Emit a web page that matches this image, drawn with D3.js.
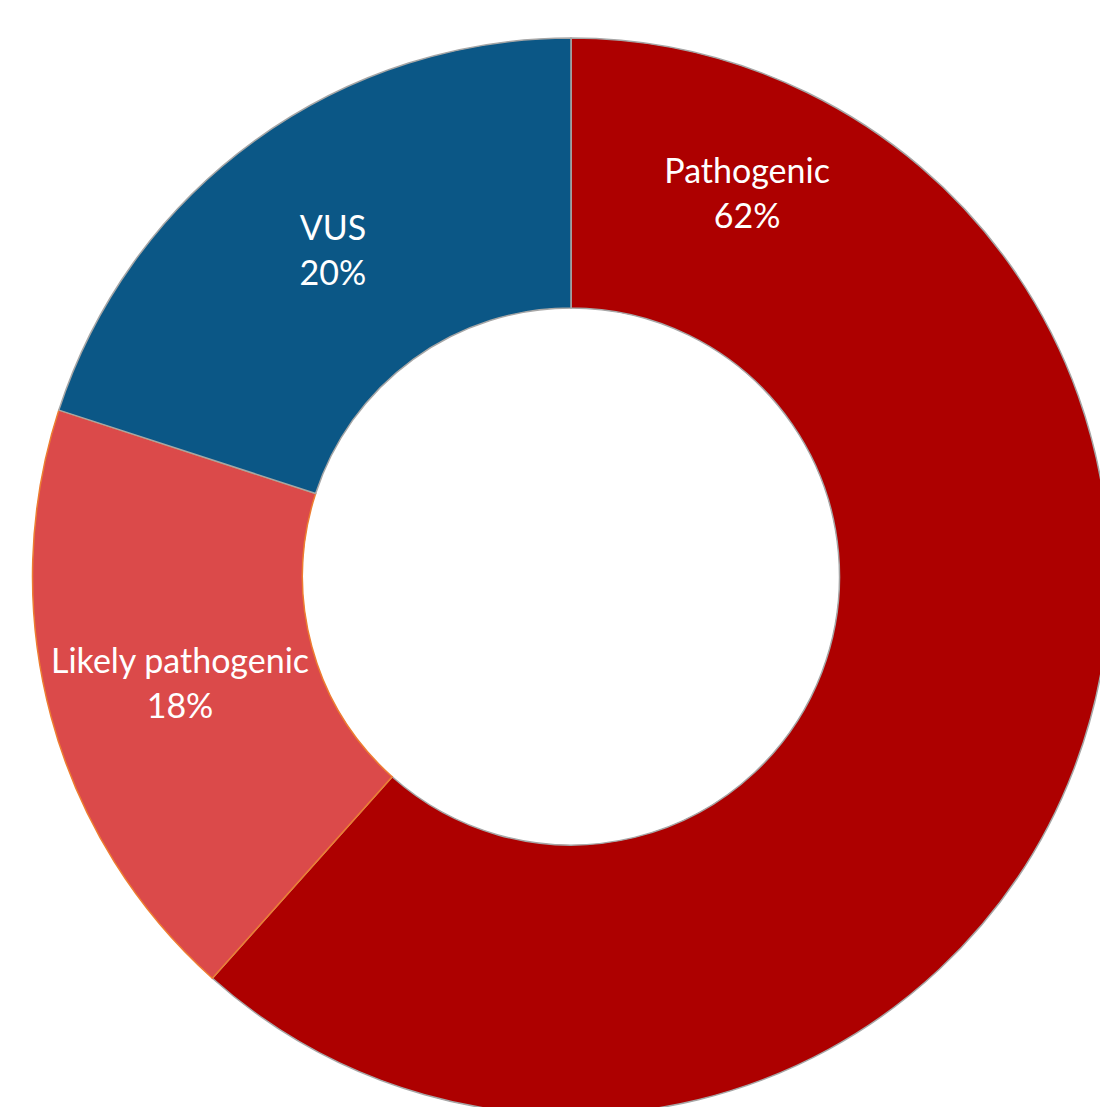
<!DOCTYPE html>
<html>
<head>
<meta charset="utf-8">
<script src="https://cdn.jsdelivr.net/npm/d3@7"></script>
<style>
  html, body { margin: 0; padding: 0; background: #ffffff; overflow: hidden; }
  svg { display: block; }
</style>
</head>
<body>
<svg id="chart" width="1100" height="1107"></svg>
<script>
const categories = ["Pathogenic", "Likely pathogenic", "VUS"];
const values = [61.6, 18.4, 20.0];
const colors = ["#ad0000", "#db4a4a", "#0b5786"];
const strokes = ["#a6a6a6", "#ed7d31", "#a6a6a6"];

const W = 1100, H = 1107;
const cx = 571, cy = 576.5;
const outerR = 538.5, innerR = 268.5;

const svg = d3.select("#chart");
const g = svg.append("g").attr("transform", `translate(${cx},${cy})`);

const data = categories.map((c, i) => ({ name: c, value: values[i], color: colors[i], stroke: strokes[i] }));
const total = d3.sum(values);

const pie = d3.pie().sort(null).value(d => d.value);
const arcs = pie(data);
const arc = d3.arc().innerRadius(innerR).outerRadius(outerR);

g.selectAll("path.slice")
  .data(arcs)
  .join("path")
  .attr("class", "slice")
  .attr("d", arc)
  .attr("fill", d => d.data.color)
  .attr("stroke", d => d.data.stroke)
  .attr("stroke-width", 1.5);

// label placement: centroid on a ring of radius ~405, Pathogenic label moved up-right as in the reference
const labelR = 405;
const fmt = d3.format(".0%");
function labelPos(d, i) {
  let a = (d.startAngle + d.endAngle) / 2;
  let r = labelR;
  if (i === 0) { a = 24.6 * Math.PI / 180; r = 423; }
  return [r * Math.sin(a), -r * Math.cos(a)];
}

const labels = g.selectAll("text.lbl")
  .data(arcs)
  .join("text")
  .attr("class", "lbl")
  .attr("text-anchor", "middle")
  .attr("fill", "#ffffff")
  .style("font-family", "Lato, 'Open Sans', sans-serif")
  .style("font-size", "34px")
  .attr("transform", (d, i) => { const p = labelPos(d, i); return `translate(${p[0]},${p[1]})`; });

labels.append("tspan")
  .attr("x", 0)
  .attr("dy", "-9px")
  .text(d => d.data.name);
labels.append("tspan")
  .attr("x", 0)
  .attr("dy", "45px")
  .text(d => fmt(d.data.value / total));
</script>
</body>
</html>
